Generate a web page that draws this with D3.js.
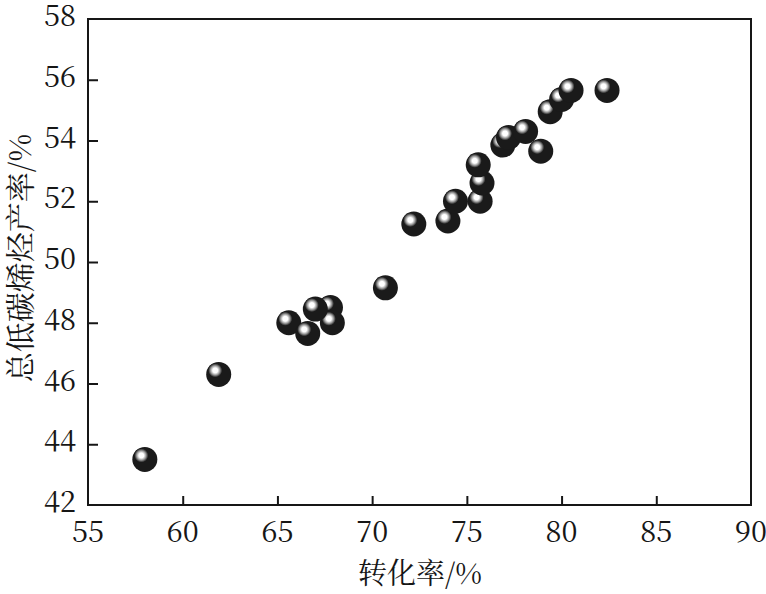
<!DOCTYPE html>
<html>
<head>
<meta charset="utf-8">
<script src="https://cdn.jsdelivr.net/npm/d3@7"></script>
<style>
  html, body { margin: 0; padding: 0; background: #fff; }
  svg { display: block; }
  .num { font-family: "Noto Serif CJK SC", "Liberation Serif", serif; }
  .lab { font-family: "Noto Serif CJK SC", "Liberation Serif", "Noto Sans CJK SC", serif; }
</style>
</head>
<body>
<svg id="chart" width="766" height="594"></svg>
<script>
// ---- data ----
const conversion = [58.0, 61.9, 65.6, 66.6, 67.8, 67.9, 67.0, 70.7, 72.2, 74.0, 74.4, 75.7, 75.8, 75.6, 76.9, 77.2, 78.1, 78.9, 79.4, 80.0, 80.5, 82.4];
const olefinYield = [43.5, 46.3, 48.0, 47.65, 48.5, 48.0, 48.45, 49.15, 51.25, 51.35, 52.0, 52.0, 52.6, 53.2, 53.85, 54.1, 54.3, 53.65, 54.95, 55.35, 55.65, 55.65];
const xTicks = [55, 60, 65, 70, 75, 80, 85, 90];
const yTicks = [42, 44, 46, 48, 50, 52, 54, 56, 58];
const xLabel = "转化率/%";
const yLabel = "总低碳烯烃产率/%";

(function () {
const svg = d3.select("#chart");
const mLeft = 88, mRight = 751, mTop = 19, mBottom = 505;
const x = d3.scaleLinear().domain([55, 90]).range([mLeft, mRight]);
const y = d3.scaleLinear().domain([42, 58]).range([mBottom, mTop]);
const ink = "#161616";

const defs = svg.append("defs");
const g = defs.append("radialGradient").attr("id", "hl")
  .attr("cx", "50%").attr("cy", "50%").attr("r", "50%");
[[0, "#ffffff"], [0.35, "#ffffff"], [0.5, "#cfcfcf"], [0.68, "#959595"], [0.85, "#505050"], [1, "#1a1a1a"]]
  .forEach(([o, c]) => g.append("stop").attr("offset", o).attr("stop-color", c));

const xAxis = d3.axisBottom(x).tickValues(xTicks.slice(1, -1)).tickSizeInner(-9).tickSizeOuter(0).tickFormat("");
const yAxis = d3.axisLeft(y).tickValues(yTicks.slice(1, -1)).tickSizeInner(-10).tickSizeOuter(0).tickFormat("");

const gx = svg.append("g").attr("transform", `translate(0,${mBottom})`).call(xAxis);
const gy = svg.append("g").attr("transform", `translate(${mLeft},0)`).call(yAxis);
[gx, gy].forEach(a => {
  a.select(".domain").remove();
  a.selectAll(".tick line").attr("stroke", ink).attr("stroke-width", 2);
});

svg.append("rect").attr("x", mLeft).attr("y", mTop)
  .attr("width", mRight - mLeft).attr("height", mBottom - mTop)
  .attr("fill", "none").attr("stroke", ink).attr("stroke-width", 2);

svg.append("g").selectAll("text").data(xTicks).join("text")
  .attr("class", "num")
  .attr("x", d => x(d)).attr("y", mBottom + 37)
  .attr("text-anchor", "middle")
  .attr("font-size", 29).attr("fill", ink)
  .text(d => d);

svg.append("g").selectAll("text").data(yTicks).join("text")
  .attr("class", "num")
  .attr("x", mLeft - 12).attr("y", d => y(d) + 7)
  .attr("text-anchor", "end")
  .attr("font-size", 29).attr("fill", ink)
  .text(d => d);

svg.append("text").attr("class", "lab").attr("x", 420).attr("y", 584)
  .attr("text-anchor", "middle")
  .attr("font-size", 29).attr("fill", ink)
  .text(xLabel);

svg.append("text").attr("class", "lab")
  .attr("transform", `translate(31,258) rotate(-90)`)
  .attr("text-anchor", "middle")
  .attr("font-size", 30).attr("fill", ink)
  .text(yLabel);

const pts = conversion.map((c, i) => ({ x: c, y: olefinYield[i] }));
const node = svg.append("g").selectAll("g.pt").data(pts).join("g").attr("class", "pt")
  .attr("transform", d => `translate(${x(d.x)},${y(d.y)})`);
node.append("circle").attr("r", 12.5).attr("fill", "#1a1a1a");
node.append("circle").attr("cx", -3.5).attr("cy", -4).attr("r", 7).attr("fill", "url(#hl)");
})();
</script>
</body>
</html>
